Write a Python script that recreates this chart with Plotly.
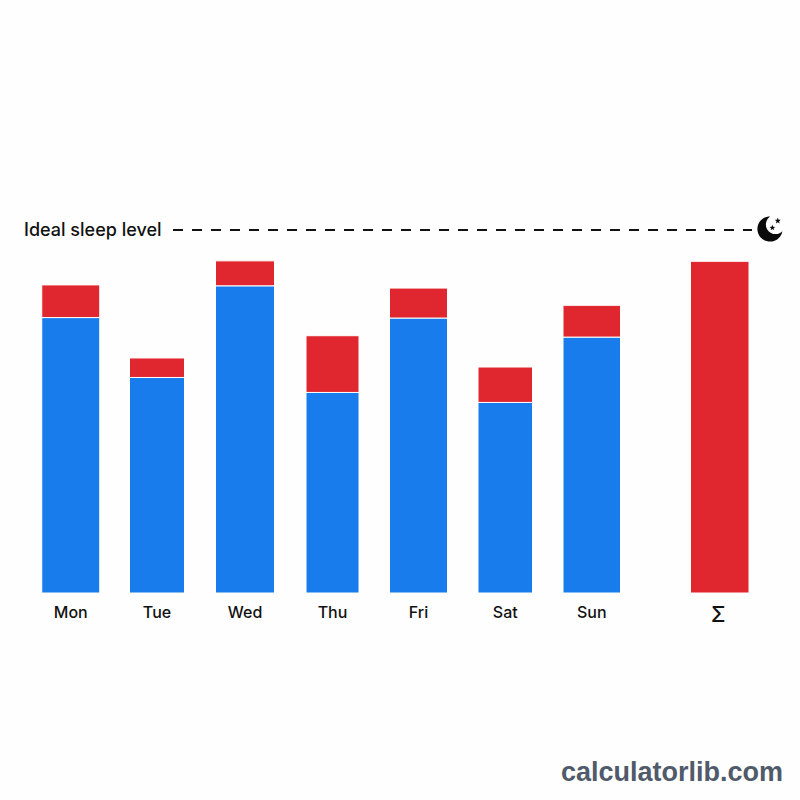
import math
import plotly.graph_objects as go

# Hours slept and hours short of the target, per day
days = ["Mon", "Tue", "Wed", "Thu", "Fri", "Sat", "Sun"]
sleep_hours = [6.07, 4.75, 6.77, 4.42, 6.06, 4.20, 5.64]
deficit_hours = [0.72, 0.43, 0.55, 1.25, 0.66, 0.78, 0.70]
total_label = "Σ"
total_deficit = 7.31
ideal_hours = 8.0

# Horizontal layout, in page pixels
day_centers = [70.75, 157, 245, 332.5, 418.5, 505.25, 591.75]
day_widths = [58, 55, 59, 53, 58, 54.5, 57.5]
total_center = 719.75
total_width = 58.5

PAGE = 800
BASELINE_PX = 593
PX_PER_HOUR = 45.375
BLUE = "#187cec"
RED = "#e0262e"
INK = "#111111"
FONT = "Inter, Roboto, sans-serif"


def paper_x(px):
    return px / PAGE


def paper_y(px):
    return (BASELINE_PX - px) / BASELINE_PX


def outline_path(points):
    cmds = [f"{'M' if i == 0 else 'L'}{paper_x(x):.5f},{paper_y(y):.5f}"
            for i, (x, y) in enumerate(points)]
    return " ".join(cmds) + " Z"


def crescent(cx, cy, r, icx, icy, ir):
    """Outer arc of one circle, returning along the inside of another."""
    d = math.hypot(icx - cx, icy - cy)
    base = math.atan2(icy - cy, icx - cx)
    a = (r * r - ir * ir + d * d) / (2 * d)
    half = math.acos(a / r)
    outer_start, outer_end = base + half, base - half + 2 * math.pi
    pts = []
    for i in range(61):
        t = outer_start + (outer_end - outer_start) * i / 60
        pts.append((cx + r * math.cos(t), cy + r * math.sin(t)))
    hx, hy = pts[-1]
    inner_start = math.atan2(hy - icy, hx - icx)
    lx, ly = pts[0]
    inner_end = math.atan2(ly - icy, lx - icx)
    if inner_end > inner_start:
        inner_end -= 2 * math.pi
    for i in range(1, 40):
        t = inner_start + (inner_end - inner_start) * i / 40
        pts.append((icx + ir * math.cos(t), icy + ir * math.sin(t)))
    return pts


def star(cx, cy, r):
    pts = []
    for i in range(10):
        rad = r if i % 2 == 0 else r * 0.42
        t = -math.pi / 2 + i * math.pi / 5
        pts.append((cx + rad * math.cos(t), cy + rad * math.sin(t)))
    return pts


fig = go.Figure()

# A thin white outline leaves the hairline between stacked segments
edge = dict(color="white", width=1)

fig.add_trace(go.Bar(
    x=day_centers, y=sleep_hours, width=day_widths,
    marker=dict(color=BLUE, line=edge), hoverinfo="skip",
))
fig.add_trace(go.Bar(
    x=day_centers, y=deficit_hours, base=sleep_hours, width=day_widths,
    marker=dict(color=RED, line=edge), hoverinfo="skip",
))
fig.add_trace(go.Bar(
    x=[total_center], y=[total_deficit], width=[total_width],
    marker=dict(color=RED, line=edge), hoverinfo="skip",
))

# Target sleep line
fig.add_trace(go.Scatter(
    x=[173, 752], y=[ideal_hours, ideal_hours], mode="lines",
    line=dict(color=INK, width=2, dash="10px,9px"), hoverinfo="skip",
))

shapes = [
    dict(type="path", xref="paper", yref="paper", line_width=0, fillcolor="#0a0a0a",
         path=outline_path(crescent(770.0, 229, 12.6, 775.5, 224.5, 9.6))),
    dict(type="path", xref="paper", yref="paper", line_width=0, fillcolor="#0a0a0a",
         path=outline_path(star(777.8, 220.8, 3.2))),
    dict(type="path", xref="paper", yref="paper", line_width=0, fillcolor="#0a0a0a",
         path=outline_path(star(772.4, 227.8, 3.0))),
]

annotations = [
    dict(text="Ideal sleep level", xref="paper", yref="paper",
         x=paper_x(22), y=paper_y(229.5), xanchor="left", yanchor="middle",
         showarrow=False, font=dict(family=FONT, size=18, color=INK, weight=500)),
    # The summary column's label sits a little lower and larger than the day names
    dict(text=total_label, xref="x", yref="paper",
         x=total_center - 1, y=paper_y(614.5), xanchor="center", yanchor="middle",
         showarrow=False, font=dict(family=FONT, size=21, color=INK, weight=500)),
    dict(text="calculatorlib.com", xref="paper", yref="paper",
         x=paper_x(785), y=paper_y(772), xanchor="right", yanchor="middle",
         showarrow=False,
         font=dict(family="Liberation Sans, Arial, sans-serif", size=27,
                   color="#4f5a6a", weight=700)),
]

fig.update_layout(
    width=PAGE, height=PAGE,
    margin=dict(l=0, r=0, t=0, b=PAGE - BASELINE_PX),
    paper_bgcolor="#fefefe", plot_bgcolor="#fefefe",
    barmode="overlay", showlegend=False,
    shapes=shapes, annotations=annotations,
    xaxis=dict(
        range=[0, PAGE], showgrid=False, zeroline=False, showline=False,
        tickmode="array", tickvals=day_centers,
        ticktext=days, ticks="", ticklen=0,
        ticklabelstandoff=8,
        tickfont=dict(family=FONT, size=16, color=INK, weight=500),
    ),
    yaxis=dict(
        range=[0, BASELINE_PX / PX_PER_HOUR], showgrid=False, zeroline=False,
        showline=False, showticklabels=False, ticks="",
    ),
)

fig.write_html("out.html", config=dict(displayModeBar=False))
